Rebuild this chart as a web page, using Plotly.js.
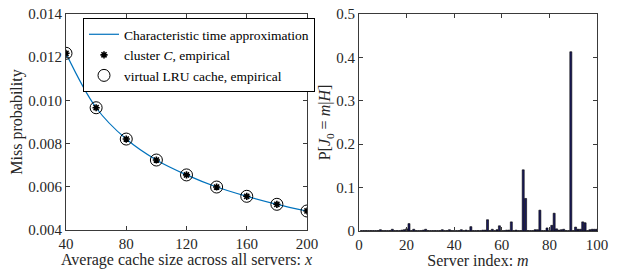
<!DOCTYPE html>
<html><head><meta charset="utf-8">
<script src="https://cdn.plot.ly/plotly-3.0.1.min.js"></script>
<style>html,body{margin:0;padding:0;background:#fff}#chart{width:618px;height:269px}</style>
</head><body><div id="chart"></div>
<script>
// Left panel: miss probability vs average cache size
var cacheSize = [40, 60, 80, 100, 120, 140, 160, 180, 200];
var approxMiss = [0.01218, 0.00966, 0.00821, 0.00724, 0.00655, 0.00599, 0.00556, 0.00519, 0.00488];
var clusterMiss = [0.01218, 0.00966, 0.00821, 0.00724, 0.00655, 0.00599, 0.00556, 0.00519, 0.00488];
var lruMiss = [0.01218, 0.00966, 0.00821, 0.00724, 0.00655, 0.00599, 0.00556, 0.00519, 0.00488];

// Right panel: P[J0 = m | H] per server index
var serverIndex = [1,2,3,4,5,6,7,8,9,10,11,12,13,14,15,16,17,18,19,20,21,22,23,24,25,26,27,28,29,30,31,32,33,34,35,36,37,38,39,40,41,42,43,44,45,46,47,48,49,50,51,52,53,54,55,56,57,58,59,60,61,62,63,64,65,66,67,68,69,70,71,72,73,74,75,76,77,78,79,80,81,82,83,84,85,86,87,88,89,90,91,92,93,94,95,96,97,98,99,100];
var probJ0 = [
 0.001,0.001,0.001,0.001,0.001,0.001,0.001,0.001,0.003,0.001,
 0.001,0.001,0.001,0.004,0.001,0.001,0.001,0.002,0.003,0.005,
 0.017,0.001,0.004,0.001,0.001,0.001,0.002,0.004,0.001,0.001,
 0.001,0.001,0.001,0.001,0.003,0.001,0.001,0.003,0.001,0.001,
 0.001,0.001,0.003,0.001,0.002,0.001,0.010,0.001,0.001,0.001,
 0.001,0.002,0.002,0.026,0.001,0.004,0.001,0.003,0.012,0.001,
 0.001,0.002,0.002,0.021,0.001,0.002,0.001,0.001,0.141,0.075,
 0.001,0.001,0.001,0.003,0.003,0.048,0.001,0.001,0.007,0.001,
 0.013,0.041,0.005,0.002,0.003,0.004,0.001,0.001,0.413,0.001,
 0.009,0.004,0.004,0.021,0.019,0.001,0.003,0.004,0.004,0.004
];

var xTicksL = [40, 80, 120, 160, 200];
var yTicksL = [0.004, 0.006, 0.008, 0.010, 0.012, 0.014];
var xTicksR = [0, 20, 40, 60, 80, 100];
var yTicksR = [0, 0.1, 0.2, 0.3, 0.4, 0.5];

var F = 'Liberation Serif';
var tc = '#262626';

var traces = [
  {x: cacheSize, y: approxMiss, mode: 'lines', name: 'Characteristic time approximation',
   line: {color: '#0072BD', width: 1.2, shape: 'spline'}, xaxis: 'x', yaxis: 'y'},
  {x: cacheSize, y: clusterMiss, mode: 'markers', name: 'cluster <i>C</i>, empirical',
   marker: {symbol: 'asterisk-open', size: 6, color: '#000', line: {color: '#000', width: 1.6}}, xaxis: 'x', yaxis: 'y'},
  {x: cacheSize, y: lruMiss, mode: 'markers', name: 'virtual LRU cache, empirical',
   marker: {symbol: 'circle-open', size: 12, color: '#000', line: {color: '#000', width: 1}}, xaxis: 'x', yaxis: 'y'},
  {x: serverIndex, y: probJ0, type: 'bar', width: 0.85, showlegend: false,
   marker: {color: '#1b1b5e', line: {color: '#000', width: 0.6}}, xaxis: 'x2', yaxis: 'y2'}
];

function ax(extra) {
  var base = {showgrid: false, zeroline: false, showline: true, mirror: 'ticks', linecolor: '#3a3a3a', linewidth: 1,
    ticks: 'inside', ticklen: 4, tickcolor: '#3a3a3a', tickfont: {family: F, size: 15, color: tc}, fixedrange: true};
  for (var k in extra) base[k] = extra[k];
  return base;
}

var layout = {
  width: 618, height: 269,
  margin: {l: 0, r: 0, t: 0, b: 0},
  paper_bgcolor: '#fff', plot_bgcolor: '#fff',
  font: {family: F, color: tc},
  showlegend: true,
  legend: {x: 83/618, y: 1 - 18/269, xanchor: 'left', yanchor: 'top', xref: 'paper', yref: 'paper',
    bgcolor: '#fff', bordercolor: '#000', borderwidth: 1, font: {family: F, size: 13.5, color: '#000'},
    itemwidth: 30, tracegroupgap: 0},
  xaxis: ax({domain: [66/618, 307/618], range: [40, 200], tickvals: xTicksL, anchor: 'y',
    title: {text: 'Average cache size across all servers: <i>x</i>', font: {family: F, size: 16, color: tc}, standoff: 0}}),
  yaxis: ax({domain: [1 - 230/269, 1 - 14/269], range: [0.004, 0.014], tickvals: yTicksL, tickformat: '.3f', anchor: 'x',
    title: {text: 'Miss probability', font: {family: F, size: 16, color: tc}, standoff: 1}}),
  xaxis2: ax({domain: [359/618, 597/618], range: [0, 100], tickvals: xTicksR, anchor: 'y2',
    title: {text: 'Server index: <i>m</i>', font: {family: F, size: 16, color: tc}, standoff: 0}}),
  yaxis2: ax({domain: [1 - 231/269, 1 - 14/269], range: [0, 0.5], tickvals: yTicksR, anchor: 'x2',
    title: {text: 'P[<i>J</i><sub>0</sub> = <i>m</i>|<i>H</i>]', font: {family: F, size: 16, color: tc}, standoff: 1}}),
  bargap: 0.2
};

Plotly.newPlot('chart', traces, layout, {staticPlot: true, displayModeBar: false});
</script></body></html>
